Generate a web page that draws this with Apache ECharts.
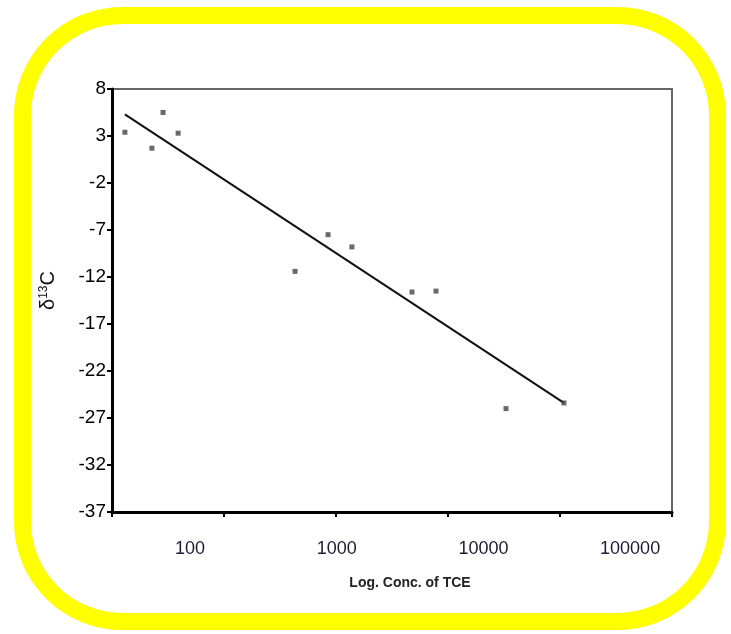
<!DOCTYPE html>
<html>
<head>
<meta charset="utf-8">
<script src="https://cdn.jsdelivr.net/npm/echarts@6/dist/echarts.min.js"></script>
<style>
html,body{margin:0;padding:0;background:#fff;}
#c{width:731px;height:634px;}
</style>
</head>
<body>
<div id="c"></div>
<script>
// Concentration of TCE (x) and delta13C (y) of the measured points
var concTCE = [36, 55, 65.5, 83, 520, 873, 1270, 3260, 4750, 14260, 35400];
var delta13C = [3.4, 1.7, 5.5, 3.3, -11.4, -7.5, -8.8, -13.6, -13.5, -26.0, -25.4];
// Trend line end points
var trendX = [36, 35400];
var trendY = [5.3, -25.4];
// Axis settings
var yTicks = {min: -37, max: 8, step: 5};
var xLabelRange = [29.4, 193000];
var xTickRange = [10, 1000000];
var xTitle = 'Log. Conc. of TCE';

var chart = echarts.init(document.getElementById('c'), null, {renderer: 'canvas'});
var pts = concTCE.map(function (x, i) { return [x, delta13C[i]]; });
var trend = trendX.map(function (x, i) { return [x, trendY[i]]; });

chart.setOption({
  backgroundColor: '#ffffff',
  animation: false,
  grid: {left: 112, right: 59, top: 89, bottom: 122, show: true, borderColor: '#666', borderWidth: 2, backgroundColor: 'transparent'},
  xAxis: [{
    type: 'log', logBase: 10, min: xLabelRange[0], max: xLabelRange[1],
    position: 'bottom',
    axisLine: {show: false},
    axisTick: {show: false},
    splitLine: {show: false},
    axisLabel: {
      showMinLabel: false, showMaxLabel: false, margin: 28,
      fontFamily: 'Liberation Sans', fontSize: 18, color: '#1c1c33',
      formatter: function (v) { return String(Math.round(v)); }
    },
    name: xTitle, nameLocation: 'middle', nameGap: 64,
    nameTextStyle: {fontFamily: 'Liberation Sans', fontSize: 14, fontWeight: 'bold', color: '#222', padding: [0, 0, 0, 36]}
  }, {
    type: 'log', logBase: 10, min: xTickRange[0], max: xTickRange[1],
    position: 'bottom',
    axisLine: {show: true, lineStyle: {color: '#000', width: 3}},
    axisTick: {show: true, length: 5, lineStyle: {color: '#000', width: 2}},
    axisLabel: {show: false},
    splitLine: {show: false}
  }],
  yAxis: {
    type: 'value', min: yTicks.min, max: yTicks.max, interval: yTicks.step,
    axisLine: {show: true, lineStyle: {color: '#000', width: 3}},
    axisTick: {show: true, length: 5, lineStyle: {color: '#000', width: 2}},
    splitLine: {show: false},
    axisLabel: {fontFamily: 'Liberation Sans', fontSize: 19, color: '#000', margin: 6},
    name: '{d|δ}{s|13}{d|C}', nameLocation: 'middle', nameGap: 54, nameRotate: 90,
    nameTextStyle: {
      padding: [0, 0, 0, 20],
      rich: {
        d: {fontFamily: 'Liberation Sans', fontSize: 20, color: '#111'},
        s: {fontFamily: 'Liberation Sans', fontSize: 12, color: '#111', verticalAlign: 'top', padding: [0, 0, 8, 0]}
      }
    }
  },
  series: [{
    type: 'line', xAxisIndex: 0, data: trend, symbol: 'none',
    lineStyle: {color: '#111', width: 2}, z: 3
  }, {
    type: 'scatter', xAxisIndex: 0, data: pts, symbol: 'rect', symbolSize: 5,
    itemStyle: {color: '#444'}, z: 4
  }],
  graphic: [{
    type: 'rect', silent: true, z: 100,
    shape: {x: 22.5, y: 15.5, width: 695, height: 606, r: 100},
    style: {fill: 'none', stroke: '#ffff00', lineWidth: 17}
  }]
});
</script>
</body>
</html>
